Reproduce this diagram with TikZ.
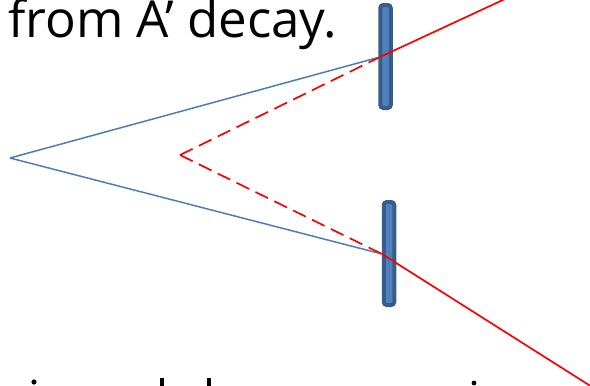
\documentclass[tikz,border=0pt]{standalone}
\usepackage{fontspec}
\setmainfont{Open Sans}
\definecolor{lineblue}{HTML}{4A7EBB}
\definecolor{detfill}{HTML}{4F81BD}
\definecolor{detedge}{HTML}{385D8A}
\tikzset{
  track/.style={lineblue, line width=1.5pt},
  photon/.style={red, line width=1.7pt},
  virt/.style={red, line width=1.7pt, dash pattern=on 14pt off 7pt},
  detector/.style={fill=detfill, draw=detedge, line width=4pt, rounded corners=3pt,
    minimum width=10.5pt, minimum height=103pt, inner sep=0pt},
  inkdot/.style={fill=black, draw=none}
}
\begin{document}
\begin{tikzpicture}[x=1pt,y=-1pt]
\useasboundingbox (0,0) rectangle (590,386);
\clip (0,0) rectangle (590,386);
% title text
\node[anchor=base west, inner sep=0pt, font=\fontsize{51}{60}\selectfont] (title) at (8,37) {from A’ decay.};
% points
\coordinate (apex) at (10,158);
\coordinate (vapex) at (180,155);
\coordinate (hitU) at (380,57);
\coordinate (hitL) at (382,254);
\coordinate (outU) at (520,-8);
\coordinate (outL) at (600,392);
% tracks
\draw[track] (apex) -- (hitU);
\draw[track] (apex) -- (hitL);
\draw[virt] (vapex) -- (hitU);
\draw[virt] (vapex) -- (hitL);
% detectors
\node[detector] (detU) at (385.5,56.5) {};
\node[detector] (detL) at (389,253.5) {};
% outgoing photons
\draw[photon] (hitU) -- (outU);
\draw[photon] (hitL) -- (outL);
% tops of clipped text line
\fill[inkdot] (34,382) circle (2.6);
\fill[inkdot] (160,378) rectangle (164,387);
\fill[inkdot] (207,378) rectangle (211,387);
\fill[inkdot] (474,383) circle (2.4);
\end{tikzpicture}
\end{document}
